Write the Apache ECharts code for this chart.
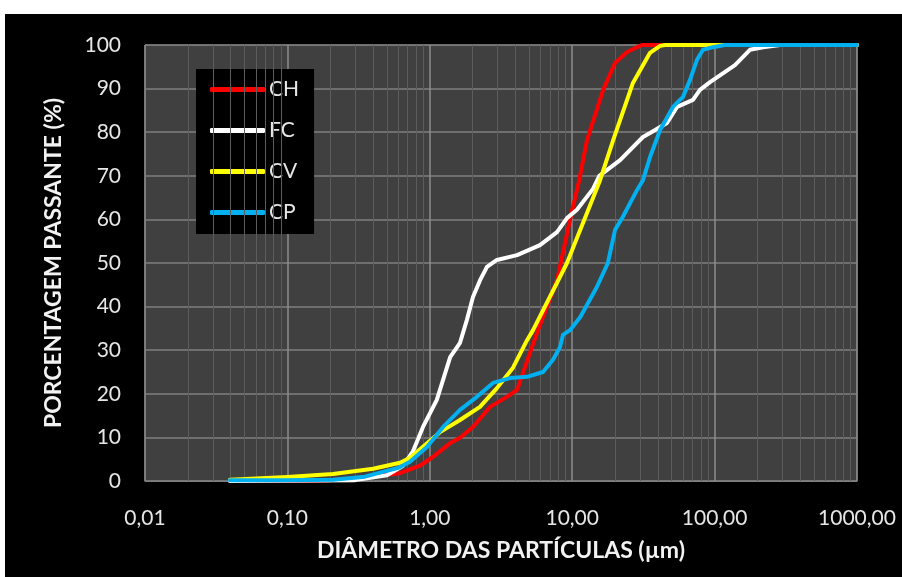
<!DOCTYPE html>
<html>
<head>
<meta charset="utf-8">
<script src="https://cdn.jsdelivr.net/npm/echarts@6/dist/echarts.min.js"></script>
<style>
html,body{margin:0;padding:0;background:#fff;width:902px;height:577px;overflow:hidden;}
#c{position:absolute;left:5px;top:14px;width:897px;height:563px;background:#000;}
</style>
</head>
<body>
<div id="c"></div>
<script>
// Diameter (µm), % passing
const seriesNames = ['CH', 'FC', 'CV', 'CP'];
const xTickLabels = ['0,01', '0,10', '1,00', '10,00', '100,00', '1000,00'];
const yTicks = [0, 10, 20, 30, 40, 50, 60, 70, 80, 90, 100];

const CH = [[0.0395,0],[0.1,0],[0.19,0.1],[0.362,0.9],[0.618,1.8],[0.853,3.5],[1.05,5.5],[1.39,8.7],[1.63,9.9],[2.01,12.4],[2.65,17],[3.48,19.3],[4.10,20.9],[4.51,24.8],[5.22,30.7],[5.75,34.6],[7.82,46],[9.65,59.9],[11.2,69],[12.7,78.2],[16.5,89.7],[20.0,95.9],[24.3,98.4],[28.5,99.5],[31,100],[1000,100]];

const FC = [[0.0395,0],[0.3,0.2],[0.5,1.3],[0.65,3.5],[0.762,6.8],[0.896,12.4],[1.12,18.6],[1.39,28.4],[1.63,31.7],[1.82,36.9],[2.01,42.2],[2.25,46],[2.52,49.1],[2.96,50.7],[4.10,51.8],[5.94,54.1],[7.82,57.1],[9.19,60.3],[10.8,62.2],[14.0,67],[15.5,70],[21.7,73.6],[31.4,78.9],[35.2,79.8],[46.3,82.1],[54.5,85.8],[70.5,87.4],[78.9,89.7],[92.9,91.5],[139,95.4],[177,98.9],[219,99.5],[288,100],[1000,100]];

const CV = [[0.0395,0.3],[0.1,0.9],[0.209,1.6],[0.4,2.8],[0.618,4.2],[0.726,5.3],[1.18,11.2],[1.63,14],[2.25,17],[2.96,21.3],[3.84,26],[4.82,32.3],[5.31,34.6],[9.19,50],[15.7,69],[19.4,78.2],[26.7,91.3],[35.2,98.2],[41.4,99.8],[45,100],[1000,100]];

const CP = [[0.0395,0.2],[0.1,0.2],[0.209,0.3],[0.35,1.0],[0.6,3.0],[0.726,4.4],[0.955,7.8],[1.24,12.4],[1.63,16.3],[2.14,19.3],[2.78,22.5],[3.66,23.6],[4.82,23.9],[6.24,25],[7.33,27.8],[8.21,30.7],[8.61,33.5],[9.65,34.6],[11.4,37.6],[14.9,44.5],[17.8,50],[20.0,57.6],[22.7,60.6],[28.5,66.7],[31.4,69],[35.2,74.3],[41.4,80.5],[51.0,85.8],[60.0,88.1],[67.2,92],[75.2,96.6],[82.9,98.9],[97.5,99.5],[118,100],[1000,100]];

const seriesData = [CH, FC, CV, CP];
const seriesColors = ['#FF0000', '#FFFFFF', '#FFFF00', '#00B0F0'];

// minor vertical grid lines (2..9 within each decade)
const minorGrid = [];
for (let e = -2; e < 3; e++) {
  for (let k = 2; k <= 9; k++) minorGrid.push(+(k * Math.pow(10, e)).toPrecision(3));
}

const FONT = 'Lato';
const chart = echarts.init(document.getElementById('c'), null, {renderer: 'canvas'});

const series = seriesNames.map((n, i) => ({
  name: n,
  type: 'line',
  data: seriesData[i],
  showSymbol: false,
  symbol: 'none',
  z: 5,
  lineStyle: {color: seriesColors[i], width: 4, cap: 'round', join: 'round'},
  itemStyle: {color: seriesColors[i]},
  animation: false
}));

series.unshift({
  name: '_minor',
  type: 'line',
  data: [[1, -50]],
  showSymbol: false,
  symbol: 'none',
  lineStyle: {opacity: 0},
  z: 1,
  silent: true,
  animation: false,
  markLine: {
    silent: true,
    symbol: 'none',
    animation: false,
    label: {show: false},
    lineStyle: {color: '#5c5c5c', type: 'solid', width: 1},
    data: minorGrid.map(v => ({xAxis: v}))
  }
});

chart.setOption({
  backgroundColor: '#000',
  animation: false,
  textStyle: {fontFamily: FONT},
  grid: {
    left: 140, top: 31, width: 712, height: 436,
    show: true, backgroundColor: '#404040', borderColor: '#7f7f7f', borderWidth: 1
  },
  legend: {
    data: seriesNames,
    orient: 'vertical',
    left: 191, top: 55,
    backgroundColor: '#000',
    padding: [10, 15, 11, 14],
    itemGap: 20,
    itemWidth: 55, itemHeight: 5,
    icon: 'roundRect',
    textStyle: {color: '#e6e6e6', fontSize: 21, fontFamily: FONT, padding: [0, 0, 0, -1]}
  },
  xAxis: {
    type: 'log', logBase: 10, min: 0.01, max: 1000,
    name: 'DIÂMETRO DAS PARTÍCULAS (µm)',
    nameLocation: 'middle', nameGap: 58,
    nameTextStyle: {color: '#f2f2f2', fontSize: 23, fontWeight: 'bold', fontFamily: FONT},
    axisLine: {show: true, lineStyle: {color: '#7f7f7f'}},
    axisTick: {show: false},
    axisLabel: {
      color: '#e6e6e6', fontSize: 21, fontFamily: FONT, margin: 27,
      formatter: v => {
        const idx = Math.round(Math.log10(v)) + 2;
        return xTickLabels[idx] !== undefined ? xTickLabels[idx] : '';
      }
    },
    splitLine: {show: true, lineStyle: {color: '#8c8c8c', width: 1.5}}
  },
  yAxis: {
    type: 'value', min: 0, max: 100, interval: 10,
    name: 'PORCENTAGEM PASSANTE (%)',
    nameLocation: 'middle', nameGap: 80, nameRotate: 90,
    nameTextStyle: {color: '#f2f2f2', fontSize: 23, fontWeight: 'bold', fontFamily: FONT},
    axisLine: {show: true, lineStyle: {color: '#7f7f7f'}},
    axisTick: {show: false},
    axisLabel: {color: '#e6e6e6', fontSize: 21, fontFamily: FONT, margin: 24,
      formatter: v => yTicks.indexOf(v) >= 0 ? String(v) : ''},
    splitLine: {show: true, lineStyle: {color: '#7f7f7f', width: 1.5}}
  },
  series: series
});
</script>
</body>
</html>
